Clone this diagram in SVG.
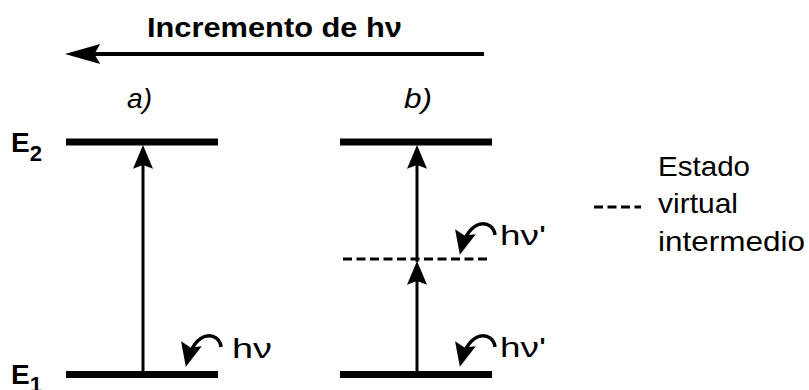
<svg xmlns="http://www.w3.org/2000/svg" width="809" height="390" viewBox="0 0 809 390">
<defs>
<style>
.t{font-family:"Liberation Sans",Arial,sans-serif;fill:#000}
.b{font-weight:bold}
.lvl{stroke:#000;stroke-width:7;fill:none}
.ln{stroke:#000;stroke-width:3;fill:none}
.cv{stroke:#000;stroke-width:3.5;fill:none}
.dash{stroke:#000;stroke-width:3;fill:none;stroke-dasharray:9 4.5}
</style>
<marker id="ah" markerUnits="userSpaceOnUse" markerWidth="30" markerHeight="30" viewBox="-22 -10 24 20" refX="-4" refY="0" orient="auto">
<path d="M0 0 L-19 -8 L-16 0 L-19 8 Z" fill="#000"/>
</marker>
<marker id="ah2" markerUnits="userSpaceOnUse" markerWidth="30" markerHeight="30" viewBox="-22 -10 24 20" refX="-4" refY="0" orient="auto">
<path d="M0 0 L-19 -8.5 L-16 0 L-19 8.5 Z" fill="#000"/>
</marker>
<marker id="ah3" markerUnits="userSpaceOnUse" markerWidth="40" markerHeight="30" viewBox="-32 -10 34 20" refX="-6" refY="0" orient="auto">
<path d="M0 0 L-30 -8.5 L-25 0 L-30 8.5 Z" fill="#000"/>
</marker>
</defs>
<rect width="809" height="390" fill="#fff"/>

<g id="title">
<text class="t b" x="147" y="37" font-size="28" textLength="255" lengthAdjust="spacingAndGlyphs">Incremento de hν</text>
</g>

<g id="labels">
<text class="t b" x="11" y="152" font-size="28">E<tspan font-size="22" dy="9">2</tspan></text>
<text class="t b" x="11" y="384" font-size="28">E<tspan font-size="22" dy="8">1</tspan></text>
<text class="t" x="127" y="108" font-size="28" font-style="italic" textLength="25" lengthAdjust="spacingAndGlyphs">a)</text>
<text class="t" x="404" y="108" font-size="28" font-style="italic" textLength="28" lengthAdjust="spacingAndGlyphs">b)</text>
</g>

<g id="levels-a">
<line class="lvl" x1="66" y1="142" x2="218" y2="142"/>
<line class="lvl" x1="66" y1="374.5" x2="218" y2="374.5"/>
</g>
<g id="levels-b">
<line class="lvl" x1="340" y1="142" x2="492" y2="142"/>
<line class="lvl" x1="340" y1="374.5" x2="492" y2="374.5"/>
<line class="dash" x1="343" y1="259" x2="490" y2="259"/>
</g>

<g id="photon-a">
<text class="t" x="232" y="358" font-size="28" textLength="40" lengthAdjust="spacingAndGlyphs">hν</text>
</g>
<g id="photon-b1">
<text class="t" x="500" y="357" font-size="28" textLength="46" lengthAdjust="spacingAndGlyphs">hν'</text>
</g>
<g id="photon-b2">
<text class="t" x="500" y="245" font-size="28" textLength="46" lengthAdjust="spacingAndGlyphs">hν'</text>
</g>

<g id="legend">
<line class="dash" x1="594" y1="207" x2="641" y2="207"/>
<text class="t" x="658" y="176" font-size="28" textLength="92" lengthAdjust="spacingAndGlyphs">Estado</text>
<text class="t" x="658" y="213" font-size="28" textLength="80" lengthAdjust="spacingAndGlyphs">virtual</text>
<text class="t" x="658" y="251" font-size="28" textLength="147" lengthAdjust="spacingAndGlyphs">intermedio</text>
</g>

<g id="connectors">
<line x1="484" y1="54" x2="72" y2="54" stroke="#000" stroke-width="4" marker-end="url(#ah3)"/>
<line class="ln" x1="143" y1="374" x2="143" y2="150" marker-end="url(#ah)"/>
<line class="ln" x1="417" y1="374" x2="417" y2="266" marker-end="url(#ah)"/>
<line class="ln" x1="417" y1="262" x2="417" y2="150" marker-end="url(#ah)"/>
<path class="cv" d="M221 347 C219 331 195 329 187 362" marker-end="url(#ah2)"/>
<path class="cv" d="M495 347 C493 331 469 329 461 362" marker-end="url(#ah2)"/>
<path class="cv" d="M495 235 C493 219 469 217 461 250" marker-end="url(#ah2)"/>
</g>
</svg>
